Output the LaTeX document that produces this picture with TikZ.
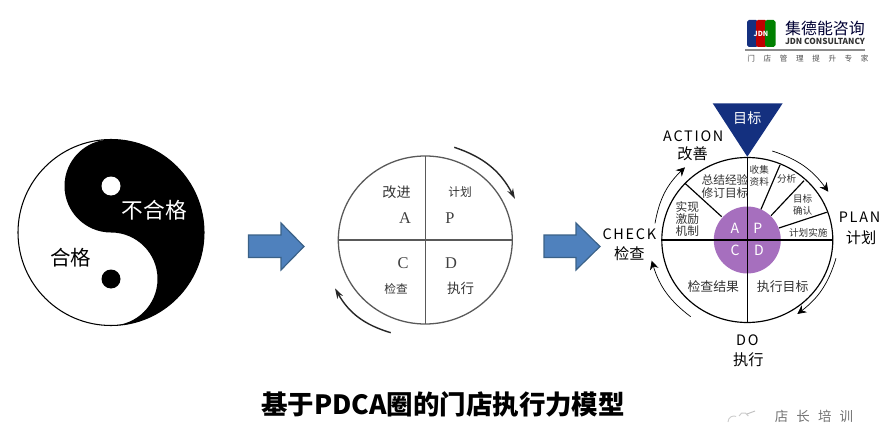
\documentclass[tikz,border=0pt]{standalone}
\usepackage{fontspec}
\setmainfont{Noto Sans CJK SC}
\newfontfamily\latinserif{Liberation Serif}
\usetikzlibrary{arrows.meta}
\definecolor{arrowblue}{HTML}{4F81BD}
\definecolor{arrowedge}{HTML}{3A6187}
\definecolor{goalblue}{HTML}{14307F}
\definecolor{corepurple}{HTML}{A66FBE}
\definecolor{textgrey}{HTML}{333333}
\tikzset{
 smalltext/.style={text=textgrey,font=\fontsize{8.2}{9}\selectfont,inner sep=0pt,align=center},
 midtext/.style={text=textgrey,font=\fontsize{10}{11}\selectfont,inner sep=0pt,align=center},
 phase/.style={text=black,font=\fontsize{12.3}{13}\selectfont\addfontfeature{LetterSpace=12},inner sep=0pt},
 phasecn/.style={text=black,font=\fontsize{13}{13}\selectfont,inner sep=0pt},
 core/.style={text=white,font=\fontsize{12}{12}\selectfont,inner sep=0pt},
 serifletter/.style={text=black!75,font=\fontsize{14}{14}\selectfont\latinserif,inner sep=0pt},
 looparrow/.style={-{Stealth[length=7.5pt,width=7.5pt]},black,line width=0.6pt},
 turn/.style={-{Stealth[length=9pt,width=5.5pt]},black!85,line width=1.2pt},
 spoke/.style={black,line width=1pt},
}
\begin{document}
\begin{tikzpicture}[x=0.03cm,y=-0.03cm]
 \useasboundingbox (0,0) rectangle (884,424);

 % yin yang
 \draw[line width=0.9pt] (111,232.5) circle[radius=93];
 \fill (111,139.5) arc[start angle=-90,end angle=90,radius=93]
  arc[start angle=90,end angle=-90,radius=46.5]
  arc[start angle=90,end angle=270,radius=46.5] -- cycle;
 \fill[white] (111,186) circle[radius=9.5];
 \fill (111,279) circle[radius=9.5];
 \node[white,inner sep=0pt,font=\fontsize{18.5}{18}\selectfont] (fail) at (154.5,210) {不合格};
 \node[black,inner sep=0pt,font=\fontsize{17.5}{18}\selectfont] (pass) at (71,258) {合格};

 % block arrows
 \draw[fill=arrowblue,draw=arrowedge,line width=1pt] (248.5,235) -- (281,235) -- (281,223) -- (304,246.5)
  -- (281,270) -- (281,257.5) -- (248.5,257.5) -- cycle;
 \draw[fill=arrowblue,draw=arrowedge,line width=1pt] (544,235) -- (576,235) -- (576,223) -- (600,246.5)
  -- (576,270) -- (576,257.5) -- (544,257.5) -- cycle;

 % middle circle
 \draw[black!65,line width=1.1pt] (425.3,240) ellipse[x radius=87,y radius=84];
 \coordinate (mleft) at (338.3,240);
 \coordinate (mright) at (512.3,240);
 \coordinate (mtop) at (425.3,156);
 \coordinate (mbottom) at (425.3,324);
 \draw[black!65,line width=1.1pt] (mleft) -- (mright);
 \draw[black!65,line width=1.1pt] (mtop) -- (mbottom);
 \node[black!80,inner sep=0pt,font=\fontsize{12}{12}\selectfont] (gaijin) at (396.5,192) {改进};
 \node[black!80,inner sep=0pt,font=\fontsize{10}{10}\selectfont] (jihua) at (460,192) {计划};
 \node[black!80,inner sep=0pt,font=\fontsize{10}{10}\selectfont] (jiancha) at (396,289.5) {检查};
 \node[black!80,inner sep=0pt,font=\fontsize{11.5}{12}\selectfont] (zhixing) at (460.5,288.5) {执行};
 \node[serifletter] (ma) at (405,218) {A};
 \node[serifletter] (mp) at (450,218) {P};
 \node[serifletter] (mc) at (403,263) {C};
 \node[serifletter] (md) at (451,263) {D};
 \coordinate (ta) at (454.3,147.3);
 \coordinate (tb) at (515,199);
 \coordinate (tc) at (390.7,332.7);
 \coordinate (td) at (335,288.3);
 \draw[turn] (ta) to[bend left=22] (tb);
 \draw[turn] (tc) to[bend left=22] (td);

 % right circle
 \fill[corepurple] (747.3,240) circle[radius=33.5];
 \draw[black,line width=1pt] (747.3,240) ellipse[x radius=85.5,y radius=82.5];
 \coordinate (rleft) at (661.5,240);
 \coordinate (rright) at (832.8,240);
 \coordinate (rtip) at (747.3,156.7);
 \coordinate (rbottom) at (747.3,322.5);
 \draw[black,line width=1.6pt] (rleft) -- (rright);
 \draw[black,line width=1pt] (rtip) -- (rbottom);
 \draw[spoke] (761,209.3) -- (780,165);
 \draw[spoke] (771,215.7) -- (804,180.7);
 \draw[spoke] (779,228) -- (826.7,212.3);
 \draw[spoke] (721.7,216.7) -- (685,183.3);
 \fill[goalblue] (712.7,103.3) -- (782.7,103.3) -- (rtip) -- cycle;
 \node[white,inner sep=0pt,font=\fontsize{12}{12}\selectfont] (goal) at (747.3,118.3) {目标};

 \node[phase] (action) at (693.3,136) {ACTION};
 \node[phasecn] (gaishan) at (692.7,153.3) {改善};
 \node[phase] (check) at (629.3,234) {CHECK};
 \node[phasecn] (checkcn) at (629.3,253.3) {检查};
 \node[phase] (plan) at (859.5,217.3) {PLAN};
 \node[phasecn] (plancn) at (861,237.3) {计划};
 \node[phase] (do) at (747.3,340) {DO};
 \node[phasecn] (docn) at (748.3,359.3) {执行};

 \node[smalltext] (collect) at (759.3,175.8) {收集\\[1pt]资料};
 \node[smalltext] (analyse) at (786.7,179.3) {分析};
 \node[smalltext] (confirm) at (802.7,204.8) {目标\\[1pt]确认};
 \node[smalltext] (carry) at (808.3,233.3) {计划实施};
 \node[midtext] (sum) at (725,186.3) {总结经验\\[-0.2pt]修订目标};
 \node[midtext] (incent) at (687.3,219.3) {实现\\[-0.8pt]激励\\[-0.8pt]机制};
 \node[core] (ca) at (735,228.3) {A};
 \node[core] (cp) at (757.7,228.3) {P};
 \node[core] (cc) at (735,250.7) {C};
 \node[core] (cd) at (759,250.7) {D};
 \node[midtext,font=\fontsize{11}{12}\selectfont] (result) at (713.3,286.7) {检查结果};
 \node[midtext,font=\fontsize{11}{12}\selectfont] (target) at (782.7,286.7) {执行目标};

 \coordinate (aa) at (655,223.3);
 \coordinate (ab) at (685,167.3);
 \coordinate (pa) at (772.3,151);
 \coordinate (pb) at (828.3,191.7);
 \coordinate (da) at (836,258.3);
 \coordinate (db) at (797.3,314);
 \coordinate (cha) at (690.7,316.7);
 \coordinate (chb) at (651.7,260.7);
 \draw[looparrow] (aa) to[bend left=18] (ab);
 \draw[looparrow] (pa) to[bend left=18] (pb);
 \draw[looparrow] (da) to[bend left=18] (db);
 \draw[looparrow] (cha) to[bend left=18] (chb);

 % logo
 \fill[rounded corners=1.5pt,fill=goalblue] (747,20) rectangle (758,47);
 \fill[rounded corners=1.5pt,fill=red!75!black] (756,20) rectangle (767,47);
 \fill[rounded corners=1.5pt,fill=green!50!black] (765,20) rectangle (775.5,47);
 \node[white,inner sep=0pt,font=\fontsize{6}{6}\selectfont\bfseries] (jdn) at (761,34) {JDN};
 \node[black!80!blue,inner sep=0pt,font=\fontsize{13.6}{14}\selectfont] (brand) at (825,28.3) {集德能咨询};
 \node[black!80,inner sep=0pt,font=\fontsize{7.1}{8}\selectfont\bfseries] (brandlatin) at (825,41.7) {JDN CONSULTANCY};
 \coordinate (rulea) at (745,50);
 \coordinate (ruleb) at (865,50);
 \draw[black!45,line width=0.9pt] (rulea) -- (ruleb);
 \node[black!70,inner sep=0pt,font=\fontsize{6.5}{7}\selectfont\addfontfeature{LetterSpace=113}] (slogan) at (808,58.5) {门店管理提升专家};

 % title
 \node[black,inner sep=0pt,font=\fontsize{22.6}{23}\selectfont\bfseries] (title) at (443,404) {基于PDCA圈的门店执行力模型};

 % watermark
 \draw[black!20,line width=0.8pt] (728,422) arc[start angle=180,end angle=290,radius=6];
 \draw[black!20,line width=0.8pt] (739,416) arc[start angle=200,end angle=340,radius=5];
 \draw[black!25,line width=0.8pt] (747,414) -- (755,411);
 \node[black!55,inner sep=0pt,font=\fontsize{11.5}{12}\selectfont\addfontfeature{LetterSpace=60}] (mark) at (814,416.5) {店长培训};
\end{tikzpicture}
\end{document}
